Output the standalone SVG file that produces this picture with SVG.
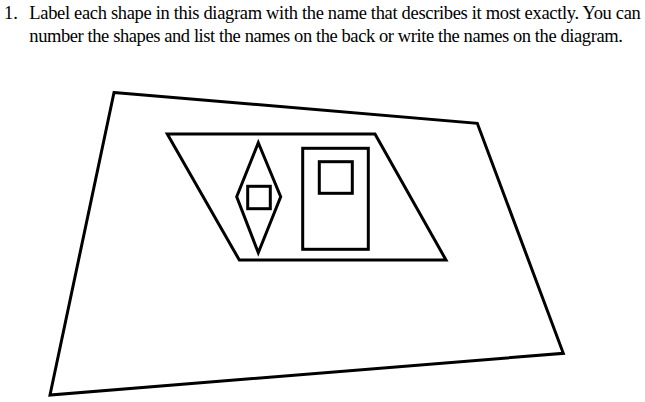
<svg xmlns="http://www.w3.org/2000/svg" width="645" height="402" viewBox="0 0 645 402">
<style>
.t{font-family:"Liberation Serif","Times New Roman",serif;font-size:18.5px;fill:#000}
.s{fill:none;stroke:#000;stroke-width:3;stroke-linejoin:miter}
</style>
<rect width="645" height="402" fill="#fff"/>
<g id="question">
<text class="t" x="4" y="19.3">1.</text>
<text class="t" x="29.3" y="19.3" textLength="611.5" lengthAdjust="spacing">Label each shape in this diagram with the name that describes it most exactly. You can</text>
<text class="t" x="29.3" y="42.3" textLength="593.5" lengthAdjust="spacing">number the shapes and list the names on the back or write the names on the diagram.</text>
</g>
<g id="outer-quadrilateral">
<polygon class="s" points="114,92.5 477.3,123.3 563.3,353.3 50,395"/>
</g>
<g id="parallelogram">
<polygon class="s" points="167.3,134 375,134 446,260 239.3,260"/>
</g>
<g id="rhombus">
<polygon class="s" points="258.3,142.7 280.7,196.7 258.3,252.7 236.7,196.7"/>
</g>
<g id="small-square">
<rect class="s" x="247.7" y="186.3" width="22.6" height="22.4"/>
</g>
<g id="rectangle">
<rect class="s" x="302.7" y="148.3" width="65.6" height="101"/>
</g>
<g id="inner-square">
<rect class="s" x="319.3" y="161.7" width="33" height="31.6"/>
</g>
</svg>
